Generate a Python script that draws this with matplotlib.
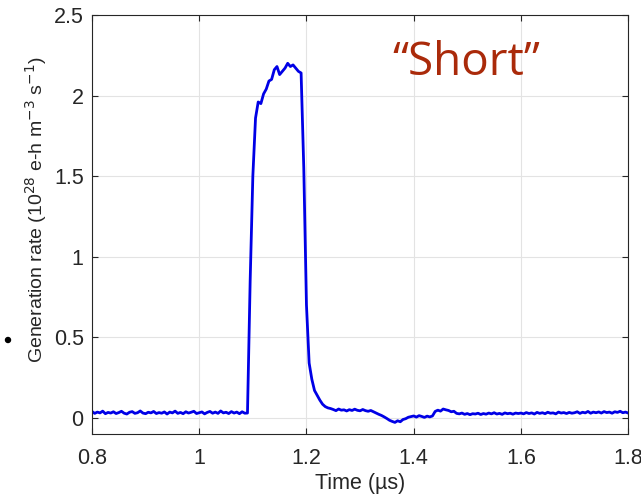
import numpy as np
import matplotlib
matplotlib.use("Agg")
import matplotlib.pyplot as plt
from matplotlib.patches import Ellipse

# sampled time axis (µs) and generation rate (1e28 e-h m^-3 s^-1)
time_us = np.linspace(0.8, 1.8, 201)
rate = [
    # 0.800 - 1.085 baseline
    0.040, 0.028, 0.036, 0.031, 0.042, 0.026, 0.034, 0.030, 0.038, 0.027,
    0.033, 0.041, 0.029, 0.024, 0.035, 0.039, 0.028, 0.032, 0.043, 0.030,
    0.026, 0.035, 0.031, 0.040, 0.027, 0.033, 0.029, 0.037, 0.024, 0.036,
    0.031, 0.042, 0.028, 0.034, 0.026, 0.038, 0.030, 0.035, 0.041, 0.027,
    0.032, 0.037, 0.025, 0.034, 0.040, 0.029, 0.036, 0.028, 0.043, 0.031,
    0.035, 0.027, 0.039, 0.030, 0.036, 0.026, 0.038, 0.029,
    # 1.090 - 1.245 pulse
    0.030, 0.85, 1.50, 1.86, 1.96, 1.95, 2.01, 2.04, 2.09, 2.10,
    2.16, 2.18, 2.13, 2.15, 2.17, 2.20, 2.18, 2.19, 2.17, 2.15,
    2.14, 1.55, 0.70, 0.34, 0.24, 0.17, 0.14, 0.11, 0.085, 0.070,
    0.062, 0.058,
    # 1.250 - 1.325 tail
    0.052, 0.045, 0.055, 0.048, 0.050, 0.043, 0.051, 0.046, 0.054, 0.047,
    0.044, 0.052, 0.045, 0.041, 0.046, 0.038,
    # 1.330 - 1.395 dip
    0.030, 0.022, 0.015, 0.006, -0.004, -0.015, -0.022,
    -0.028, -0.018, -0.024, -0.010, -0.005, 0.004, 0.008,
    # 1.400 - 1.475
    0.012, 0.005, 0.014, 0.009, 0.003, 0.011, 0.006, 0.012,
    0.040, 0.048, 0.042, 0.055, 0.050, 0.046, 0.038, 0.041,
    # 1.480 - 1.595
    0.028, 0.025, 0.030, 0.022, 0.027, 0.020, 0.026, 0.024, 0.029, 0.021,
    0.027, 0.023, 0.030, 0.025, 0.032, 0.024, 0.028, 0.022, 0.031, 0.026,
    0.029, 0.023, 0.030, 0.027,
    # 1.600 - 1.800
    0.030, 0.025, 0.033, 0.027, 0.031, 0.024, 0.034, 0.028, 0.032, 0.026,
    0.035, 0.029, 0.031, 0.025, 0.036, 0.030, 0.033, 0.027, 0.034, 0.029,
    0.032, 0.038, 0.028, 0.035, 0.031, 0.040, 0.029, 0.036, 0.032, 0.037,
    0.030, 0.039, 0.033, 0.036, 0.029, 0.038, 0.034, 0.041, 0.032, 0.036,
    0.030,
]

x_ticks = [0.8, 1.0, 1.2, 1.4, 1.6, 1.8]
x_labels = ["0.8", "1", "1.2", "1.4", "1.6", "1.8"]
y_ticks = [0, 0.5, 1.0, 1.5, 2.0, 2.5]
y_labels = ["0", "0.5", "1", "1.5", "2", "2.5"]

plt.rcParams["font.family"] = ["Liberation Sans", "DejaVu Sans"]

fig = plt.figure(figsize=(6.41, 4.98), dpi=100)
ax = fig.add_axes([0.1435, 0.1285, 0.8365, 0.8415])

ax.plot(time_us, rate, color="#0000e6", linewidth=2.0)

ax.set_xlim(0.8, 1.8)
ax.set_ylim(-0.1, 2.5)
ax.set_xticks(x_ticks)
ax.set_xticklabels(x_labels)
ax.set_yticks(y_ticks)
ax.set_yticklabels(y_labels)
ax.grid(True, color="#e3e3e3", linewidth=0.8)
ax.set_axisbelow(True)
ax.tick_params(direction="in", length=4, width=0.8, top=True, right=True,
               labelsize=15.5, colors="#262626")
ax.tick_params(axis="x", pad=10)
ax.tick_params(axis="y", pad=6)
for sp in ax.spines.values():
    sp.set_color("#262626")
    sp.set_linewidth(0.8)

ax.set_xlabel("Time (µs)", fontsize=15.5, color="#262626", labelpad=3)
ax.set_ylabel("Generation rate (10$^{28}$ e-h m$^{-3}$ s$^{-1}$)",
              fontsize=14, color="#262626")
ax.yaxis.set_label_coords(-0.08, 0.535)

ax.text(1.499, 2.128, "\u201cShort\u201d", fontsize=33, color="#aa2a0a",
        family=["Open Sans", "DejaVu Sans"], ha="center", va="baseline")

# stray bullet on the left margin
fig.add_artist(Ellipse((8 / 641, 1 - 340 / 498), 5 / 641, 5 / 498,
                       transform=fig.transFigure, color="black"))

fig.savefig("out.png", dpi=100)
